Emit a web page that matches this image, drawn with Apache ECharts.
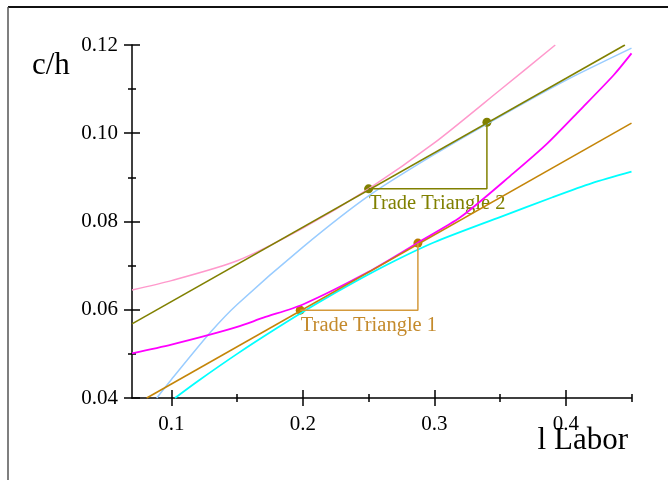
<!DOCTYPE html>
<html>
<head>
<meta charset="utf-8">
<script src="https://cdn.jsdelivr.net/npm/echarts@6/dist/echarts.min.js"></script>
<style>
  html, body { margin: 0; padding: 0; background: #fff; }
  #chart { width: 668px; height: 480px; }
</style>
</head>
<body>
<div id="chart"></div>
<script>
// Labor-axis tick positions
const laborMajorTicks = [0.1, 0.2, 0.3, 0.4];
const laborMinorTicks = [0.15, 0.25, 0.35, 0.45];

// Economy 2: indifference curve, price line, production frontier
const indiff2L = [0.07, 0.10, 0.15, 0.20, 0.25, 0.30, 0.35, 0.392];
const indiff2C = [0.0645, 0.0666, 0.0711, 0.0785, 0.0874, 0.0978, 0.1098, 0.1200];
const price2L = [0.07, 0.445];
const price2C = [0.0568, 0.1200];
const ppf2L = [0.0888, 0.10, 0.13, 0.15, 0.20, 0.25, 0.30, 0.35, 0.40, 0.45];
const ppf2C = [0.0400, 0.0442, 0.0550, 0.0612, 0.0742, 0.0858, 0.0952, 0.1038, 0.1120, 0.1193];

// Economy 1: indifference curve, price line, production frontier
const indiff1L = [0.07, 0.10, 0.13, 0.15, 0.17, 0.20, 0.25, 0.2875, 0.32, 0.36, 0.386, 0.411, 0.4365, 0.45];
const indiff1C = [0.0501, 0.0521, 0.0544, 0.0561, 0.0582, 0.0612, 0.0686, 0.0752, 0.0810, 0.0909, 0.0977, 0.1053, 0.1132, 0.1181];
const price1L = [0.0812, 0.45];
const price1C = [0.0400, 0.1023];
const ppf1L = [0.1027, 0.12, 0.15, 0.18, 0.21, 0.24, 0.27, 0.30, 0.35, 0.39, 0.42, 0.45];
const ppf1C = [0.0400, 0.0438, 0.0500, 0.0558, 0.0613, 0.0664, 0.0711, 0.0753, 0.0810, 0.0855, 0.0887, 0.0913];

// Trade triangles: first point is the labelled corner
const tri1L = [0.198, 0.2875];
const tri1C = [0.0599, 0.0751];
const tri2L = [0.25, 0.34];
const tri2C = [0.0874, 0.1025];
const triLabels = ['Trade Triangle 1', 'Trade Triangle 2'];

const serif = '"Liberation Serif", "Times New Roman", Times, serif';
const olive = '#808000';
const amber = '#c48508';

function pairs(L, C) { return L.map((x, i) => [x, C[i]]); }

function curve(L, C, color, width, smooth) {
  return {
    type: 'line', data: pairs(L, C), showSymbol: false, silent: true,
    smooth: smooth ? 0.25 : false,
    lineStyle: { color: color, width: width }
  };
}

function triangle(L, C, color) {
  return {
    type: 'line', showSymbol: false, silent: true,
    data: [[L[0], C[0]], [L[1], C[0]], [L[1], C[1]]],
    lineStyle: { color: color, width: 1.5 }
  };
}

function triDots(L, C, color, textColor, text) {
  return {
    type: 'scatter', symbolSize: 9, silent: true,
    itemStyle: { color: color, opacity: 1 },
    data: [
      { value: [L[0], C[0]], label: {
          show: true, formatter: text, position: [5, 9], align: 'left', verticalAlign: 'top',
          color: textColor, fontFamily: serif, fontSize: 20.5 } },
      { value: [L[1], C[1]] }
    ]
  };
}

const tickStyle = { color: '#000', width: 1.5 };

function laborAxis(ticks, inside, len, main) {
  return {
    type: 'value', min: 0.07, max: 0.45, position: 'bottom', offset: 0,
    axisLine: { show: main, onZero: false, lineStyle: { color: '#000', width: 1.5 } },
    axisTick: { show: true, inside: inside, length: len, customValues: ticks, lineStyle: tickStyle },
    axisLabel: main ? {
      show: true, customValues: laborMajorTicks, formatter: v => v.toFixed(1),
      color: '#000', fontFamily: serif, fontSize: 21, margin: 16
    } : { show: false },
    splitLine: { show: false }
  };
}

function chAxis(inside, main) {
  return {
    type: 'value', min: 0.04, max: 0.12, interval: 0.02, position: 'left', offset: 0,
    axisLine: { show: main, onZero: false, lineStyle: { color: '#000', width: 1.5 } },
    axisTick: { show: true, inside: inside, length: 8, lineStyle: tickStyle },
    minorTick: { show: true, splitNumber: 2, length: 4, lineStyle: tickStyle },
    axisLabel: main ? {
      show: true, formatter: v => v.toFixed(2), padding: [5, 0, 0, 0],
      color: '#000', fontFamily: serif, fontSize: 21, margin: 14
    } : { show: false },
    splitLine: { show: false }
  };
}

const chart = echarts.init(document.getElementById('chart'), null, { renderer: 'canvas' });
chart.setOption({
  animation: false,
  backgroundColor: '#fff',
  grid: { left: 132, top: 45, width: 499.5, height: 353 },
  title: [
    { text: 'c/h', left: 32, top: 50, padding: 0,
      textStyle: { fontFamily: serif, fontSize: 31, fontWeight: 'normal', color: '#000' } },
    { text: 'l Labor', right: 40, top: 425, padding: 0,
      textStyle: { fontFamily: serif, fontSize: 31, fontWeight: 'normal', color: '#000' } }
  ],
  graphic: [
    { type: 'line', shape: { x1: 8, y1: 7, x2: 668, y2: 7 }, style: { stroke: '#111', lineWidth: 2 } },
    { type: 'line', shape: { x1: 8, y1: 7, x2: 8, y2: 480 }, style: { stroke: '#555', lineWidth: 1.5 } }
  ],
  xAxis: [
    laborAxis(laborMajorTicks, false, 8, true),
    laborAxis(laborMajorTicks, true, 8, false),
    laborAxis(laborMinorTicks, false, 4, false),
    laborAxis(laborMinorTicks, true, 4, false)
  ],
  yAxis: [chAxis(false, true), chAxis(true, false)],
  series: [
    curve(indiff2L, indiff2C, '#ff99cc', 1.5, true),
    curve(ppf2L, ppf2C, '#99ccff', 1.5, true),
    curve(indiff1L, indiff1C, '#ff00ff', 1.8, true),
    curve(ppf1L, ppf1C, '#00ffff', 1.8, true),
    curve(price2L, price2C, olive, 1.6, false),
    curve(price1L, price1C, amber, 1.6, false),
    triangle(tri2L, tri2C, olive),
    triangle(tri1L, tri1C, '#d49a3c'),
    triDots(tri2L, tri2C, olive, olive, triLabels[1]),
    triDots(tri1L, tri1C, '#b87c00', '#c48a2c', triLabels[0])
  ]
});
</script>
</body>
</html>
